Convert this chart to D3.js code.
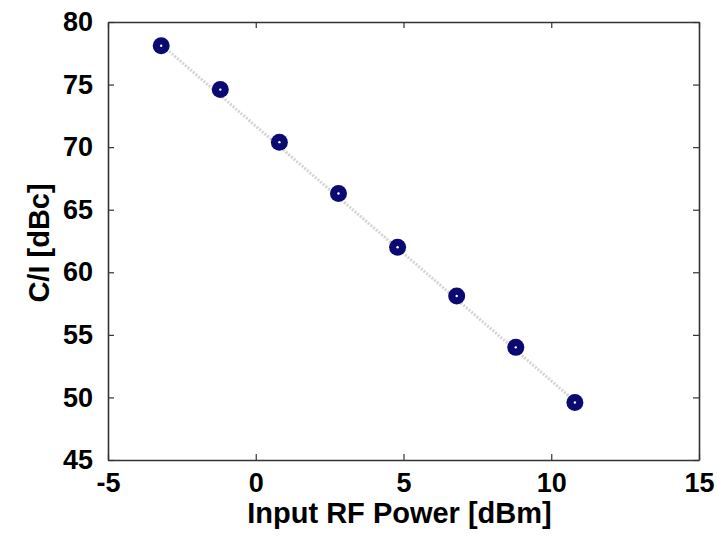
<!DOCTYPE html>
<html>
<head>
<meta charset="utf-8">
<script src="https://cdn.jsdelivr.net/npm/d3@7"></script>
<style>
  body { margin: 0; background: #fff; }
  svg text { font-family: "Liberation Sans", Arial, sans-serif; font-weight: bold; fill: #000; }
</style>
</head>
<body>
<div id="chart"></div>
<script>
// Measured values
const powerIn = [-3.2, -1.2, 0.8, 2.8, 4.8, 6.8, 8.8, 10.8];
const ciValues = [78.1, 74.6, 70.4, 66.3, 62.0, 58.1, 54.0, 49.6];
// Linear fit line (end points)
const fitX = [-3.2, 10.8];
const fitY = [78.2, 49.7];
const xTicks = [-5, 0, 5, 10, 15];
const yTicks = [45, 50, 55, 60, 65, 70, 75, 80];

const W = 717, H = 538;
const margin = { top: 22, right: 18, bottom: 78, left: 108 },
    width = W - margin.left - margin.right,
    height = H - margin.top - margin.bottom;

const svg = d3.select("#chart")
    .append("svg")
    .attr("width", W)
    .attr("height", H)
    .append("g")
    .attr("transform", `translate(${margin.left},${margin.top})`);

const x = d3.scaleLinear().domain([-5, 15]).range([0, width]);
const y = d3.scaleLinear().domain([45, 80]).range([height, 0]);

const tickLen = 6;
const axisColor = "#333";
const fmt = d => String(d); // plain hyphen for negatives

// Axes with inward ticks (box style)
const bottomAxis = svg.append("g")
    .attr("transform", `translate(0,${height})`)
    .call(d3.axisBottom(x).tickValues(xTicks).tickFormat(fmt).tickSizeInner(-tickLen).tickSizeOuter(0).tickPadding(13));
const leftAxis = svg.append("g")
    .call(d3.axisLeft(y).tickValues(yTicks).tickFormat(fmt).tickSizeInner(-tickLen).tickSizeOuter(0).tickPadding(15));
svg.append("g")
    .call(d3.axisTop(x).tickValues(xTicks).tickSizeInner(-tickLen).tickSizeOuter(0).tickFormat(""));
svg.append("g")
    .attr("transform", `translate(${width},0)`)
    .call(d3.axisRight(y).tickValues(yTicks).tickSizeInner(-tickLen).tickSizeOuter(0).tickFormat(""));

svg.selectAll(".domain").attr("stroke", axisColor).attr("stroke-width", 1.6);
svg.selectAll(".tick line").attr("stroke", axisColor).attr("stroke-width", 1.2);
svg.selectAll(".tick text").style("font-size", "27px");
bottomAxis.selectAll(".tick text").attr("dy", "0.71em");

// Fit line
const fitData = fitX.map((v, i) => [v, fitY[i]]);
svg.append("path")
    .datum(fitData)
    .attr("fill", "none")
    .attr("stroke", "#d4d4d4")
    .attr("stroke-width", 3)
    .attr("stroke-dasharray", "2,1.5")
    .attr("d", d3.line().x(d => x(d[0])).y(d => y(d[1])));

// Markers
const pts = powerIn.map((v, i) => ({ p: v, ci: ciValues[i] }));
svg.selectAll("circle.pt")
    .data(pts)
    .enter()
    .append("circle")
    .attr("class", "pt")
    .attr("cx", d => x(d.p))
    .attr("cy", d => y(d.ci))
    .attr("r", 8.5)
    .attr("fill", "#0a0a72");

svg.selectAll("circle.ctr")
    .data(pts)
    .enter()
    .append("circle")
    .attr("class", "ctr")
    .attr("cx", d => x(d.p))
    .attr("cy", d => y(d.ci))
    .attr("r", 1.2)
    .attr("fill", "#fff");

// Axis labels
svg.append("text")
    .attr("x", width / 2 - 4)
    .attr("y", height + 63)
    .attr("text-anchor", "middle")
    .style("font-size", "29px")
    .text("Input RF Power [dBm]");

svg.append("text")
    .attr("transform", "rotate(-90)")
    .attr("x", -221)
    .attr("y", -59)
    .attr("text-anchor", "middle")
    .style("font-size", "29px")
    .text("C/I [dBc]");
</script>
</body>
</html>
